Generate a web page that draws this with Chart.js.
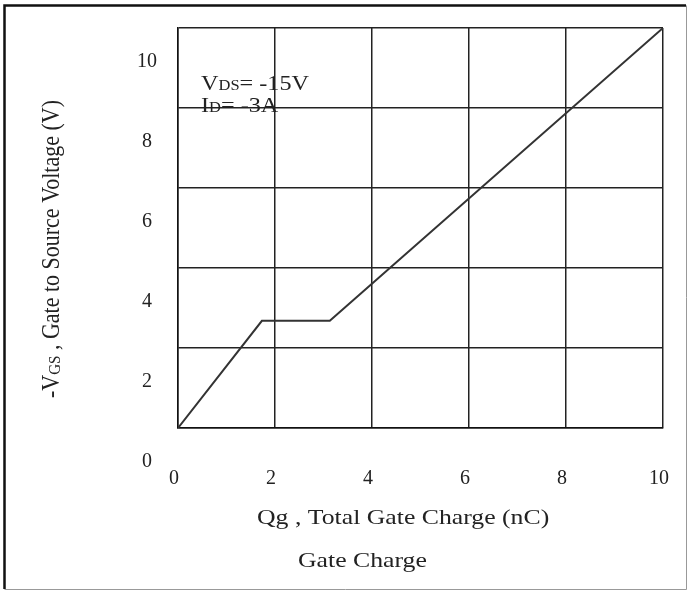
<!DOCTYPE html>
<html>
<head>
<meta charset="utf-8">
<script src="https://cdn.jsdelivr.net/npm/chart.js@4/dist/chart.umd.min.js"></script>
<style>
  html, body { margin: 0; padding: 0; background: #fff; }
  #wrap { width: 687px; height: 590px; }
</style>
</head>
<body>
<div id="wrap"><canvas id="chart-qg"></canvas></div>
<script>
const ctx = document.getElementById('chart-qg');

// gate charge (nC) / -VGS (V)
let qg = [0, 1.73, 3.13, 10];
let vgs = [0, 2.68, 2.68, 10];

// tick labels
let x_ticks = [0, 2, 4, 6, 8, 10];
let y_ticks = [0, 2, 4, 6, 8, 10];

const serif = "'Liberation Serif', 'Times New Roman', serif";
const ink = '#222';
// the scan is a little wider than tall, so text is stretched sideways
const stretch = 1.17;

// no extra room for the tick labels, the layout padding does it
function noPad(scale) {
    scale.paddingLeft = 0;
    scale.paddingRight = 0;
    scale.paddingTop = 0;
    scale.paddingBottom = 0;
}

// draws pieces of text [text, size, dy] side by side
function pieces(c, x, y, parts) {
    c.textAlign = 'left';
    for (const [t, size, dy] of parts) {
        c.font = size + 'px ' + serif;
        c.fillText(t, x, y + dy);
        x += c.measureText(t).width;
    }
}

function piecesWidth(c, parts) {
    let w = 0;
    for (const [t, size] of parts) {
        c.font = size + 'px ' + serif;
        w += c.measureText(t).width;
    }
    return w;
}

// frame round the picture, titles and the test-condition note
const extras = {
    id: 'extras',
    beforeDraw(chart) {
        const c = chart.ctx;
        c.save();
        c.fillStyle = '#fff';
        c.fillRect(0, 0, chart.width, chart.height);
        c.strokeStyle = '#111';
        c.lineWidth = 2.5;
        c.beginPath();
        c.moveTo(4.5, chart.height - 1);
        c.lineTo(4.5, 5.5);
        c.lineTo(chart.width - 1, 5.5);
        c.stroke();
        c.strokeStyle = '#999';
        c.lineWidth = 1;
        c.beginPath();
        c.moveTo(4.5, chart.height - 0.5);
        c.lineTo(chart.width - 0.5, chart.height - 0.5);
        c.lineTo(chart.width - 0.5, 5.5);
        c.stroke();
        c.restore();
    },
    afterDraw(chart) {
        const c = chart.ctx;
        const a = chart.chartArea;
        c.fillStyle = ink;
        c.textBaseline = 'middle';

        // note inside the plot
        c.save();
        c.translate(a.left + 23, a.top + 56);
        c.scale(1.1, 1);
        pieces(c, 0, 0, [['V', 22, 0], ['DS', 15, 2], ['= -15V', 22, 0]]);
        pieces(c, 0, 22, [['I', 22, 0], ['D', 15, 2], ['= -3A', 22, 0]]);
        c.restore();

        // x title
        c.save();
        c.translate(257, 518);
        c.scale(stretch, 1);
        pieces(c, 0, 0, [['Qg , Total Gate Charge (nC)', 22, 0]]);
        c.restore();

        c.save();
        c.translate(298, 561);
        c.scale(stretch, 1);
        pieces(c, 0, 0, [['Gate Charge', 22, 0]]);
        c.restore();

        // y title, rotated
        const yt = [['-V', 22, 0], ['GS', 15, 3], [' , Gate to Source Voltage (V)', 22, 0]];
        c.save();
        c.translate(52, 249);
        c.rotate(-Math.PI / 2);
        c.scale(1, stretch);
        pieces(c, -piecesWidth(c, yt) / 2, 0, yt);
        c.restore();
    }
};

const config = {
    type: 'line',
    data: {
        datasets: [
            {
                data: qg.map((q, i) => ({ x: q, y: vgs[i] })),
                borderColor: '#333',
                borderWidth: 2,
                pointRadius: 0,
                tension: 0
            }
        ]
    },
    options: {
        responsive: true,
        maintainAspectRatio: false,
        animation: false,
        events: [],
        layout: {
            padding: { left: 0, top: 28, right: 24, bottom: 0 }
        },
        plugins: {
            legend: { display: false },
            tooltip: { enabled: false }
        },
        scales: {
            x: {
                type: 'linear',
                min: 0,
                max: 10,
                afterFit(scale) { scale.height = 162; noPad(scale); },
                afterBuildTicks(scale) { scale.ticks = x_ticks.map(v => ({ value: v })); },
                border: { color: '#111', width: 1.5 },
                grid: { color: '#222', lineWidth: 1.5, drawTicks: false },
                ticks: {
                    color: ink,
                    font: { family: serif, size: 20 },
                    padding: 39,
                    labelOffset: -4,
                    maxRotation: 0
                }
            },
            y: {
                type: 'linear',
                min: 0,
                max: 10,
                afterFit(scale) { scale.width = 178; noPad(scale); },
                afterBuildTicks(scale) { scale.ticks = y_ticks.map(v => ({ value: v })); },
                border: { color: '#111', width: 1.5 },
                grid: { color: '#222', lineWidth: 1.5, drawTicks: false },
                ticks: {
                    color: ink,
                    font: { family: serif, size: 20 },
                    padding: 21,
                    crossAlign: 'center',
                    labelOffset: 34
                }
            }
        }
    },
    plugins: [extras]
};

const chart = new Chart(ctx, config);
</script>
</body>
</html>
